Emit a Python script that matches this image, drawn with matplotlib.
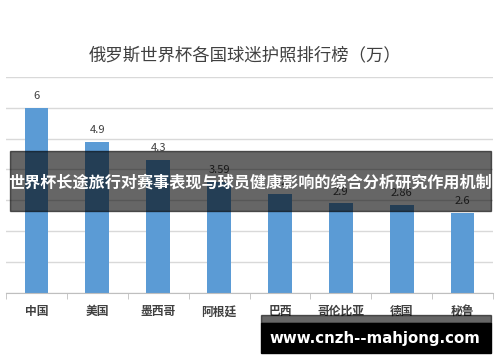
import matplotlib
matplotlib.use("Agg")
import matplotlib.pyplot as plt
from matplotlib.patches import Rectangle

plt.rcParams["font.family"] = ["Noto Sans CJK SC", "DejaVu Sans"]

countries = ["中国", "美国", "墨西哥", "阿根廷", "巴西", "哥伦比亚", "德国", "秘鲁"]
fans = [6, 4.9, 4.3, 3.59, 3.2, 2.9, 2.86, 2.6]
title = "俄罗斯世界杯各国球迷护照排行榜（万）"
banner = "世界杯长途旅行对赛事表现与球员健康影响的综合分析研究作用机制"
watermark = "www.cnzh--mahjong.com"

W, H = 500, 362
fig = plt.figure(figsize=(W / 100, H / 100), dpi=100)
ax = fig.add_axes([6 / W, 1 - 292.7 / H, 487 / W, (292.7 - 77) / H])

x = range(len(countries))
ax.bar(x, fans, width=0.39, color="#5B9BD5", zorder=2)
for xi, v in zip(x, fans):
    ax.text(xi, v + 0.22, f"{v:g}", ha="center", va="bottom",
            fontsize=8, color="#404040")

ax.set_xlim(-0.5, len(countries) - 0.5)
ax.set_ylim(0, 7)
ax.set_yticks(range(0, 8))
ax.yaxis.grid(True, color="#D9D9D9", linewidth=1, zorder=0)
ax.tick_params(axis="y", length=0, labelleft=False)
ax.set_xticks(list(x))
ax.set_xticklabels(countries, fontsize=8.5, fontweight="bold", color="#404040")
ax.set_xticks([i - 0.5 for i in range(len(countries) + 1)], minor=True)
ax.tick_params(axis="x", which="major", length=0, pad=9)
ax.tick_params(axis="x", which="minor", length=4, color="#BFBFBF")
for s in ["top", "left", "right"]:
    ax.spines[s].set_visible(False)
ax.spines["bottom"].set_color("#BFBFBF")

fig.text(245 / W, 1 - 55 / H, title, ha="center", va="center",
         fontsize=12.5, color="#404040")

# overlay banner
fig.patches.append(Rectangle((10 / W, 1 - 210.7 / H), 481 / W, 59.7 / H,
                             transform=fig.transFigure, color="black",
                             alpha=0.6, zorder=5))
fig.text(250 / W, 1 - 183 / H, banner, ha="center", va="center",
         fontsize=11.6, fontweight="bold", color="white", zorder=6)

# watermark
fig.patches.append(Rectangle((261 / W, 1 - 322.7 / H), 230 / W, 7.7 / H,
                             transform=fig.transFigure, color="black",
                             alpha=0.6, zorder=5))
fig.patches.append(Rectangle((261 / W, 1 - 352.7 / H), 230 / W, 30 / H,
                             transform=fig.transFigure, color="black",
                             zorder=5))
fig.text(375 / W, 1 - 338 / H, watermark, ha="center", va="center",
         fontsize=10.8, fontweight="bold", color="white", zorder=6,
         family="DejaVu Sans")

fig.savefig("out.png", dpi=100)
